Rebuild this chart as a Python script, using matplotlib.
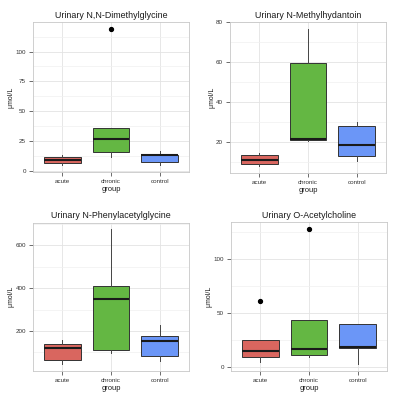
import matplotlib
matplotlib.use("Agg")
import matplotlib.pyplot as plt

groups = ["acute", "chronic", "control"]
colors = ["#D9665F", "#64B743", "#6B96F7"]

titles = ["Urinary N,N-Dimethylglycine", "Urinary N-Methylhydantoin",
          "Urinary N-Phenylacetylglycine", "Urinary O-Acetylcholine"]

# per panel: values for acute, chronic, control
dmg_q1 = [7.0, 15.5, 7.6]
dmg_med = [9.5, 26.7, 13.0]
dmg_q3 = [11.5, 35.8, 13.5]
dmg_lo = [5.3, 11.5, 4.8]
dmg_hi = [13.0, 35.8, 16.6]
dmg_out = [[], [119.0], []]
dmg_ticks = [0, 25, 50, 75, 100, 125]

nmh_q1 = [8.7, 20.7, 13.1]
nmh_med = [10.9, 21.4, 18.6]
nmh_q3 = [13.6, 59.7, 28.1]
nmh_lo = [7.8, 20.2, 10.4]
nmh_hi = [14.4, 76.6, 30.0]
nmh_out = [[], [], []]
nmh_ticks = [20, 40, 60, 80]

npag_q1 = [65.6, 109.4, 84.6]
npag_med = [120.0, 348.0, 151.0]
npag_q3 = [137.5, 408.0, 175.0]
npag_lo = [44.0, 95.0, 59.0]
npag_hi = [159.0, 676.0, 227.0]
npag_out = [[], [], []]
npag_ticks = [200, 400, 600]

oac_q1 = [9.6, 11.1, 18.0]
oac_med = [14.9, 16.7, 19.2]
oac_q3 = [25.4, 44.0, 39.6]
oac_lo = [5.0, 9.3, 2.8]
oac_hi = [25.4, 44.0, 40.3]
oac_out = [[61.3], [128.2], []]
oac_ticks = [0, 50, 100]

panels = [
    (dmg_q1, dmg_med, dmg_q3, dmg_lo, dmg_hi, dmg_out, dmg_ticks),
    (nmh_q1, nmh_med, nmh_q3, nmh_lo, nmh_hi, nmh_out, nmh_ticks),
    (npag_q1, npag_med, npag_q3, npag_lo, npag_hi, npag_out, npag_ticks),
    (oac_q1, oac_med, oac_q3, oac_lo, oac_hi, oac_out, oac_ticks),
]

# pixel boxes of each panel: left, top, right, bottom
boxes_px = [(33, 22, 189, 172), (230, 22, 386, 173),
            (33, 222.5, 189, 371), (231, 222, 387, 371)]

W = 398.0
plt.rcParams["font.family"] = ["Liberation Sans", "DejaVu Sans"]
fig = plt.figure(figsize=(3.98, 3.98), dpi=100)

for k in range(4):
    q1, med, q3, lo, hi, out, ticks = panels[k]
    l, t, r, b = boxes_px[k]
    ax = fig.add_axes([l / W, 1 - b / W, (r - l) / W, (b - t) / W])
    stats = []
    for i in range(3):
        stats.append(dict(q1=q1[i], med=med[i], q3=q3[i], whislo=lo[i],
                          whishi=hi[i], fliers=out[i], label=groups[i]))
    bp = ax.bxp(stats, positions=[1, 2, 3], widths=0.75, patch_artist=True,
                showcaps=False,
                boxprops=dict(edgecolor="#333333", linewidth=0.7),
                whiskerprops=dict(color="#444444", linewidth=0.7),
                medianprops=dict(color="#1a1a1a", linewidth=1.5),
                flierprops=dict(marker="o", markerfacecolor="black",
                                markeredgecolor="black", markersize=2.8))
    for patch, c in zip(bp["boxes"], colors):
        patch.set_facecolor(c)

    allv = lo + hi + [v for o in out for v in o]
    vmin, vmax = min(allv), max(allv)
    pad = (vmax - vmin) * 0.05
    ax.set_xlim(0.4, 3.6)
    ax.set_yticks(ticks)
    step = ticks[1] - ticks[0]
    minor = [ticks[0] - step / 2] + [v + step / 2 for v in ticks]
    ax.set_yticks(minor, minor=True)
    ax.set_ylim(vmin - pad, vmax + pad)
    ax.grid(True, which="major", color="#e3e3e3", linewidth=0.6)
    ax.grid(True, which="minor", axis="y", color="#f0f0f0", linewidth=0.5)
    ax.set_axisbelow(True)
    ax.tick_params(which="minor", length=0)
    ax.tick_params(which="major", length=3, width=0.6, color="#555555",
                   labelsize=4.5, labelcolor="#333333", pad=2)
    for s in ax.spines.values():
        s.set_color("#c8c8c8")
        s.set_linewidth(0.6)
    ax.set_title(titles[k], fontsize=6.4, color="#1a1a1a", pad=3)
    ax.set_xlabel("group", fontsize=5.4, color="#1a1a1a", labelpad=1.5)
    ax.set_ylabel("μmol/L", fontsize=5.0, color="#1a1a1a", labelpad=0.5)

fig.savefig("out.png", dpi=100)
